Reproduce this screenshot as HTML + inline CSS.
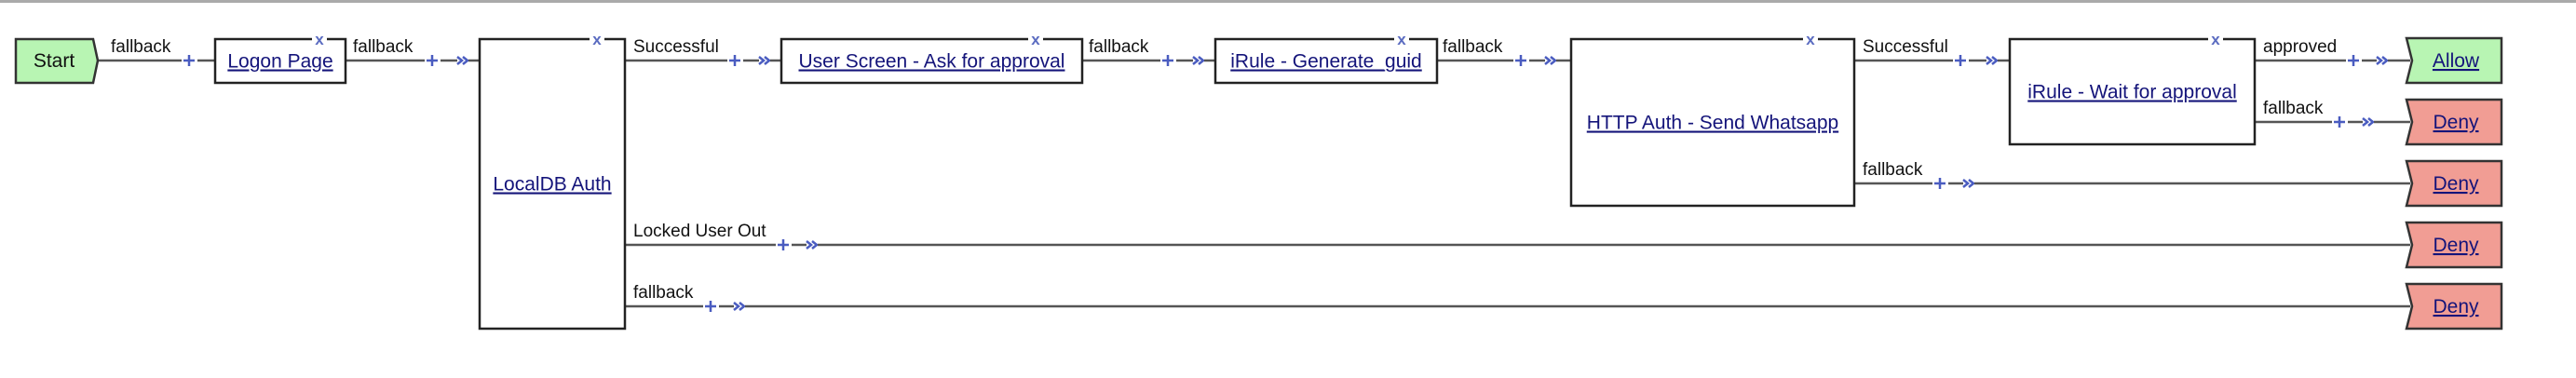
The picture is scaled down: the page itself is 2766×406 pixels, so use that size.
<!DOCTYPE html>
<html><head><meta charset="utf-8"><style>
html,body{margin:0;padding:0;background:#fff;}
svg{display:block;}
.lbl{font-family:"Liberation Sans",sans-serif;font-size:19px;fill:#111;}
.lnk{font-family:"Liberation Sans",sans-serif;font-size:21px;fill:#14147a;text-decoration:underline;}
.st{font-family:"Liberation Sans",sans-serif;font-size:21px;fill:#111;}
.x{font-family:"Liberation Sans",sans-serif;font-size:17px;fill:#5a6bc0;font-weight:bold;}
</style></head><body>
<svg width="2766" height="406" viewBox="0 0 2766 406" xmlns="http://www.w3.org/2000/svg">
<rect x="0" y="0" width="2766" height="3" fill="#aaa"/>
<g id="conn" stroke="#555" stroke-width="2.5" fill="none"></g>
<g id="nodes"></g>
</svg>
<script>
const NS="http://www.w3.org/2000/svg";
const svg=document.querySelector('svg');
function el(t,a,txt){const e=document.createElementNS(NS,t);for(const k in a)e.setAttribute(k,a[k]);if(txt!==undefined)e.textContent=txt;svg.appendChild(e);return e;}
function line(x1,y1,x2,y2){el('line',{x1,y1,x2,y2,stroke:'#555','stroke-width':2.5});}
function plus(cx,y){el('path',{d:`M${cx-6} ${y}H${cx+6}M${cx} ${y-6}V${y+6}`,stroke:'#4a5cc0','stroke-width':2.5,fill:'none'});}
function chev(x,y){el('path',{d:`M${x} ${y-4}L${x+5} ${y}L${x} ${y+4}M${x+6} ${y-4}L${x+11} ${y}L${x+6} ${y+4}`,stroke:'#4a5cc0','stroke-width':2.5,fill:'none'});}
function conn(x0,y,lx,label,px,cx,x1){
  el('text',{x:lx,y:y-9,class:'lbl'},label);
  line(x0,y,px-8,y);plus(px,y);
  if(cx){line(px+9,y,cx,y);chev(cx,y);line(cx+12,y,x1,y);}
  else line(px+9,y,x1,y);
}
conn(105,65,119,'fallback',203,0,231);
conn(371,65,379,'fallback',464,491,515);
conn(671,65,680,'Successful',789,815,839);
conn(1162,65,1169,'fallback',1254,1281,1305);
conn(1543,65,1549,'fallback',1633,1659,1687);
conn(1991,65,2000,'Successful',2105,2133,2158);
conn(2421,65,2430,'approved',2527,2552,2588);
conn(2421,131,2430,'fallback',2512,2537,2588);
conn(1991,197,2000,'fallback',2083,2108,2588);
conn(671,263,680,'Locked User Out',841,866,2588);
conn(671,329,680,'fallback',763,788,2588);
function box(x1,y1,x2,y2,txt,xm){
  el('rect',{x:x1,y:y1,width:x2-x1,height:y2-y1,fill:'#fff',stroke:'#222','stroke-width':2.5});
  el('rect',{x:xm-8,y:y1-3,width:16,height:6,fill:'#fff'});
  el('text',{x:xm,y:y1+6,class:'x','text-anchor':'middle'},'x');
  el('text',{x:(x1+x2)/2,y:(y1+y2)/2+7,class:'lnk','text-anchor':'middle'},txt);
}
box(231,42,371,89,'Logon Page',343);
box(515,42,671,353,'LocalDB Auth',641);
box(839,42,1162,89,'User Screen - Ask for approval',1112);
box(1305,42,1543,89,'iRule - Generate_guid',1505);
box(1687,42,1991,221,'HTTP Auth - Send Whatsapp',1944);
box(2158,42,2421,155,'iRule - Wait for approval',2379);
// Start
el('path',{d:'M17 42H100L105 65L100 89H17Z',fill:'#b8f5b3',stroke:'#333','stroke-width':2.5});
el('text',{x:58,y:72,class:'st','text-anchor':'middle'},'Start');
function term(y1,txt,fill){
  const y2=y1+48,ym=y1+24;
  el('path',{d:`M2584 ${y1}H2686V${y2}H2584L2590 ${ym}Z`,fill,stroke:'#333','stroke-width':2.5});
  el('text',{x:2637,y:ym+7,class:'lnk','text-anchor':'middle'},txt);
}
term(41,'Allow','#b8f5b3');
term(107,'Deny','#f19d94');
term(173,'Deny','#f19d94');
term(239,'Deny','#f19d94');
term(305,'Deny','#f19d94');
</script>
</body></html>
